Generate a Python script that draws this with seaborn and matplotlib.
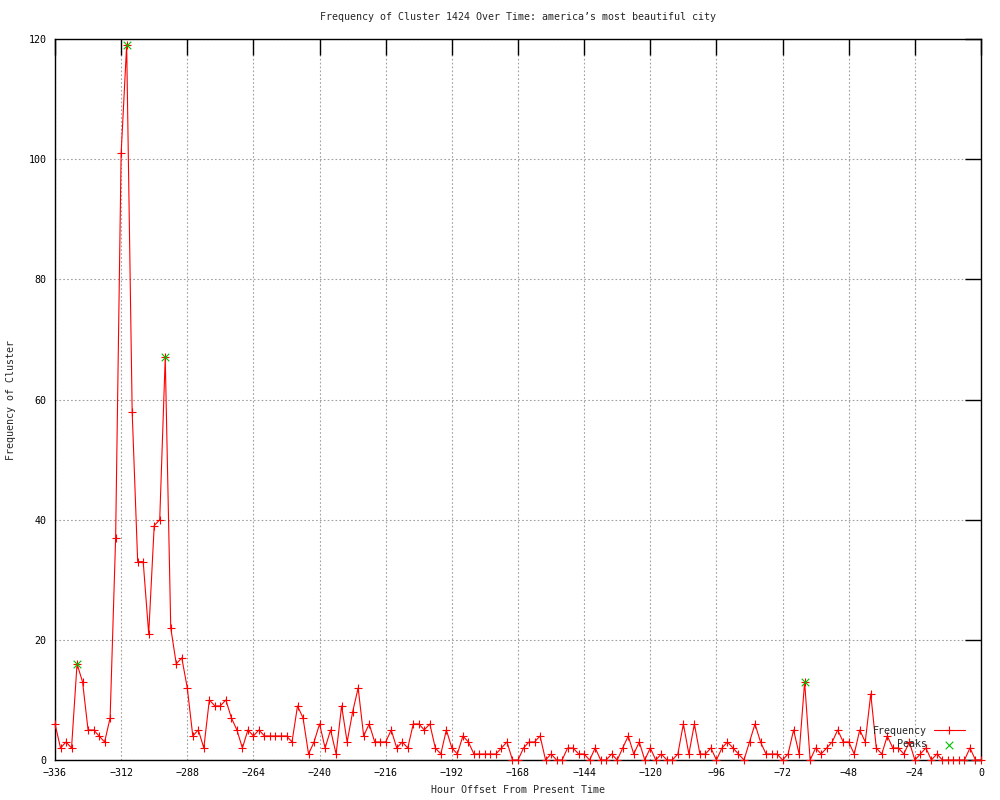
import numpy as np
import pandas as pd
import matplotlib
matplotlib.use("Agg")
import matplotlib.pyplot as plt
import seaborn as sns

# Frequency per 2-hour step, from -336 h up to 0 h
hours = list(range(-336, 2, 2))
freq = [
    6, 2, 3, 2, 16, 13, 5, 5, 4, 3,
    7, 37, 101, 119, 58, 33, 33, 21, 39, 40,
    67, 22, 16, 17, 12, 4, 5, 2, 10, 9,
    9, 10, 7, 5, 2, 5, 4, 5, 4, 4,
    4, 4, 4, 3, 9, 7, 1, 3, 6, 2,
    5, 1, 9, 3, 8, 12, 4, 6, 3, 3,
    3, 5, 2, 3, 2, 6, 6, 5, 6, 2,
    1, 5, 2, 1, 4, 3, 1, 1, 1, 1,
    1, 2, 3, 0, 0, 2, 3, 3, 4, 0,
    1, 0, 0, 2, 2, 1, 1, 0, 2, 0,
    0, 1, 0, 2, 4, 1, 3, 0, 2, 0,
    1, 0, 0, 1, 6, 1, 6, 1, 1, 2,
    0, 2, 3, 2, 1, 0, 3, 6, 3, 1,
    1, 1, 0, 1, 5, 1, 13, 0, 2, 1,
    2, 3, 5, 3, 3, 1, 5, 3, 11, 2,
    1, 4, 2, 2, 1, 3, 0, 1, 2, 0,
    1, 0, 0, 0, 0, 0, 2, 0, 0,
]

# detected peaks
peak_hours = [-328, -310, -296, -64]
peak_freq = [16, 119, 67, 13]

df = pd.DataFrame({"hour": hours, "freq": freq})
peaks = pd.DataFrame({"hour": peak_hours, "freq": peak_freq})

sns.set_theme(style="white")
plt.rcParams["font.family"] = ["DejaVu Sans Mono"]
plt.rcParams["font.size"] = 7.2

fig = plt.figure(figsize=(10, 8), dpi=100)
ax = fig.add_axes([0.055, 0.05, 0.926, 0.90125])

sns.lineplot(data=df, x="hour", y="freq", ax=ax, color="#ff0000", linewidth=0.8,
             marker="+", markersize=6, markeredgewidth=0.8, markeredgecolor="#ff0000",
             estimator=None, label="Frequency", clip_on=False, zorder=3)
sns.scatterplot(data=peaks, x="hour", y="freq", ax=ax, color="#00c000", marker="x",
                s=30, linewidth=0.8, label="Peaks", clip_on=False, zorder=4)

ax.set_xlim(-336, 0)
ax.set_ylim(0, 120)
ax.set_xticks(np.arange(-336, 1, 24))
ax.set_yticks(np.arange(0, 121, 20))

ax.grid(True, color="#a0a0a0", linestyle=(0, (1.5, 2)), linewidth=0.8)
ax.tick_params(direction="in", length=11.5, width=1, top=True, right=True,
               labelsize=7.2, pad=6, colors="black")
for s in ax.spines.values():
    s.set_color("black")
    s.set_linewidth(1)

ax.set_title("Frequency of Cluster 1424 Over Time: america\u2019s most beautiful city",
             fontsize=7.2, pad=14)
ax.set_xlabel("Hour Offset From Present Time", fontsize=7.2, labelpad=5)
ax.set_ylabel("Frequency of Cluster", fontsize=7.2, labelpad=9)

leg = ax.legend(loc="lower right", bbox_to_anchor=(0.99, 0.005), frameon=False,
                markerfirst=False, fontsize=7.2, handlelength=3.1,
                handletextpad=0.7, labelspacing=0.35, borderpad=0.2)

fig.savefig("out.png", dpi=100)
